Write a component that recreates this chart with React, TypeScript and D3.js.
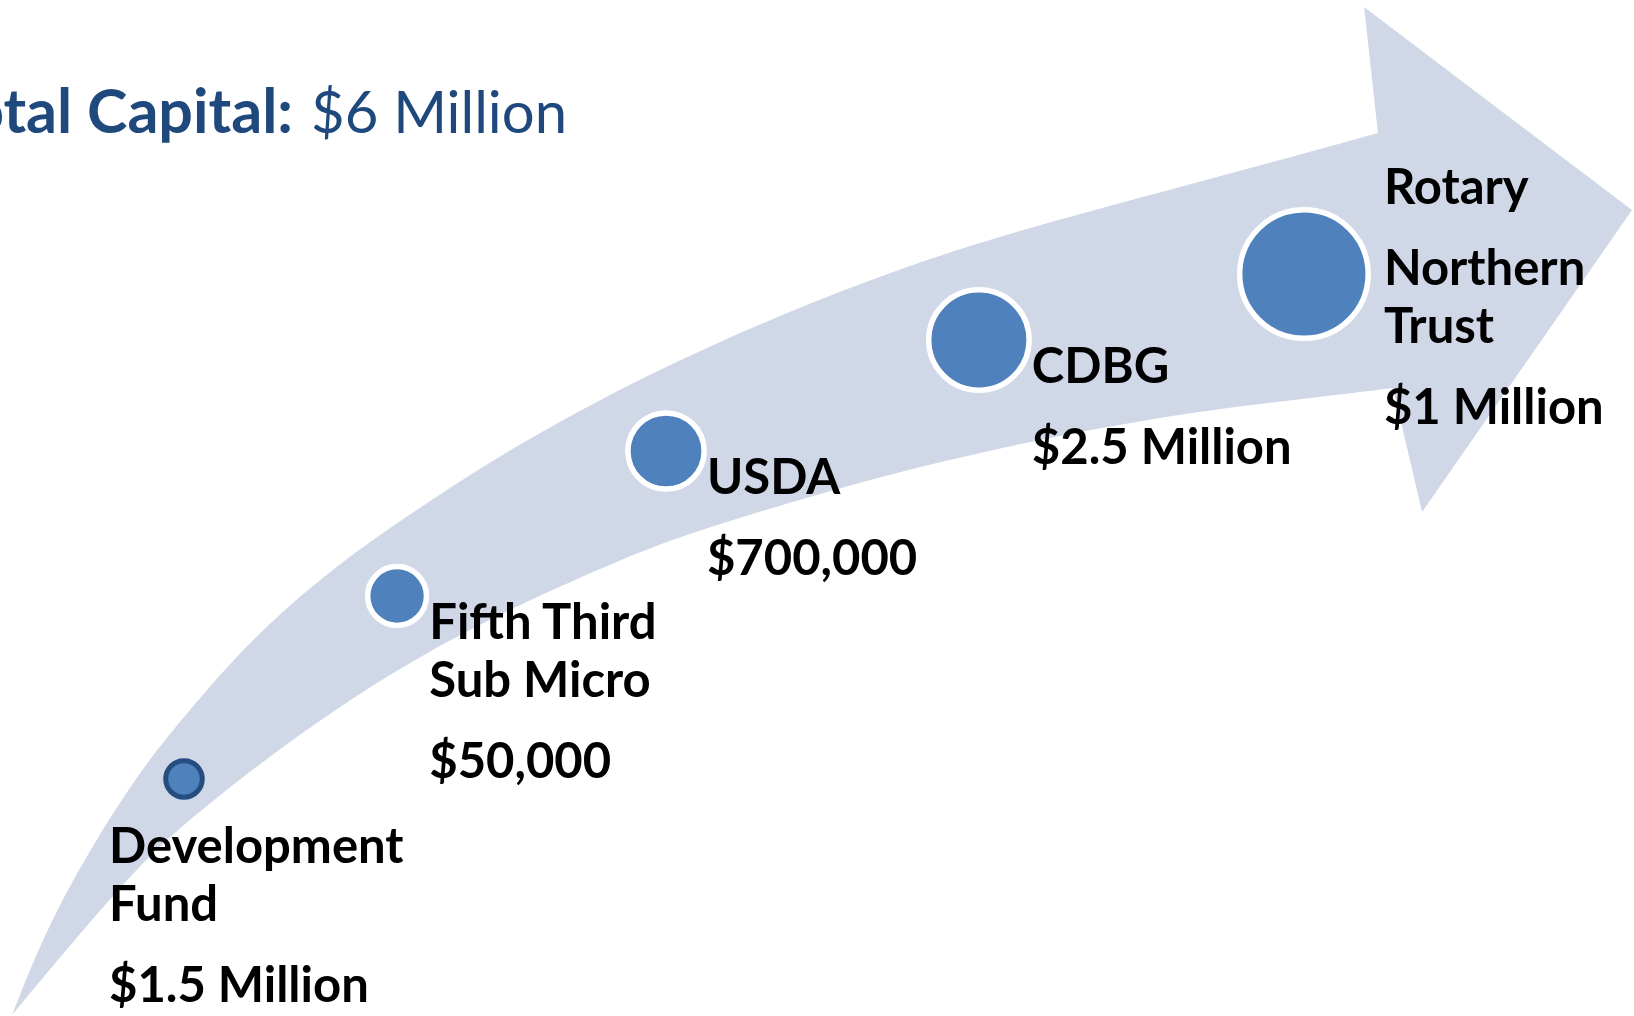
import * as d3 from "d3";

// funding steps, left to right along the arrow
const funders: string[][][] = [
  [["Development", "Fund"]],
  [["Fifth Third", "Sub Micro"]],
  [["USDA"]],
  [["CDBG"]],
  [["Rotary"], ["Northern", "Trust"]],
];
const amounts = ["$1.5 Million", "$50,000", "$700,000", "$2.5 Million", "$1 Million"];

// marker position along the arrow (percent of width / percent of height from bottom)
const stepProgress = [11.26, 24.3, 40.76, 59.91, 79.8];
const stepRise = [23.33, 41.34, 55.61, 66.54, 73.03];
// relative marker size (1 = largest)
const stepSize = [0.31, 0.48, 0.61, 0.79, 1];

const totalLabel = "Total Capital:";
const totalValue = "$6 Million";

// arrow outline in the same percent space
const arrowUpper: [number, number][] = [
  [0.73, 0.1], [3.06, 9.45], [6.12, 18.01], [8.75, 24.51], [11.44, 29.82],
  [15.3, 37.01], [20.38, 44.19], [26.32, 50.79], [32.44, 56.99], [40.15, 63.58],
  [47.74, 69.0], [55.08, 73.62], [62.42, 77.36], [70.38, 80.81], [77.72, 83.96],
  [84.33, 86.91],
];
const arrowHead: [number, number][] = [[83.48, 99.31], [99.88, 79.33], [87.03, 49.61]];
const arrowLower: [number, number][] = [
  [85.25, 61.81], [80.78, 60.93], [70.38, 58.96], [57.53, 54.72], [47.74, 50.3],
  [41.0, 46.85], [37.94, 44.88], [30.6, 39.67], [24.48, 34.35], [18.36, 27.85],
  [13.04, 21.26], [9.18, 16.04], [5.08, 8.46], [0.73, 0.1],
];

// where each label sits relative to its marker
const placement = ["below", "right", "right", "right", "rightMid"];

const W = 1634;
const H = 1016;
const FONT = "Lato, 'Open Sans', sans-serif";
const LINE = 58;
const PARA = 81;

export default function App() {
  const x = d3.scaleLinear().domain([0, 100]).range([0, W]);
  const y = d3.scaleLinear().domain([0, 100]).range([H, 0]);
  const r = d3.scaleLinear().domain([0, 1]).range([0, 67]);

  const edge = d3
    .line<[number, number]>()
    .x((d) => x(d[0]))
    .y((d) => y(d[1]))
    .curve(d3.curveBasis);

  const arrowPath =
    (edge(arrowUpper) ?? "") +
    arrowHead.map((p) => `L${x(p[0])},${y(p[1])}`).join("") +
    (edge(arrowLower) ?? "").replace(/^M/, "L") +
    "Z";

  return (
    <>
      <style>{`body{margin:0;background:#fff}`}</style>
      <svg width={W} height={H} style={{ display: "block" }}>
        <path d={arrowPath} fill="#d0d8e8" />

        <text
          x={293}
          y={133}
          textAnchor="end"
          fontFamily={FONT}
          fontWeight="bold"
          fontSize={61}
          fill="#1f497d"
        >
          {totalLabel}
        </text>
        <text x={311} y={133} fontFamily={FONT} fontSize={58} fill="#1f497d">
          {totalValue}
        </text>

        {stepProgress.map((p, i) => {
          const cx = x(p);
          const cy = y(stepRise[i]);
          const outer = r(stepSize[i]);
          const first = i === 0;
          const sw = first ? 5 : 5.5;

          // label lines with baselines
          const lines: { text: string; dy: number }[] = [];
          let off = 0;
          funders[i].forEach((para, pi) => {
            para.forEach((t, li) => {
              if (pi > 0 || li > 0) off += li > 0 ? LINE : PARA;
              lines.push({ text: t, dy: off });
            });
          });
          off += PARA;
          lines.push({ text: amounts[i], dy: off });

          let lx = cx + outer;
          let ly = cy + 43;
          if (placement[i] === "below") {
            lx = cx - 75;
            ly = cy + 84;
          } else if (placement[i] === "rightMid") {
            lx = cx + outer + 13;
            ly = cy - 70;
          }

          return (
            <g key={i}>
              <circle
                cx={cx}
                cy={cy}
                r={outer - sw / 2}
                fill="#4f81bd"
                stroke={first ? "#254d80" : "#ffffff"}
                strokeWidth={sw}
              />
              {lines.map((l, k) => (
                <text
                  key={k}
                  x={lx}
                  y={ly + l.dy}
                  fontFamily={FONT}
                  fontWeight="bold"
                  fontSize={49}
                  fill="#000"
                >
                  {l.text}
                </text>
              ))}
            </g>
          );
        })}
      </svg>
    </>
  );
}
